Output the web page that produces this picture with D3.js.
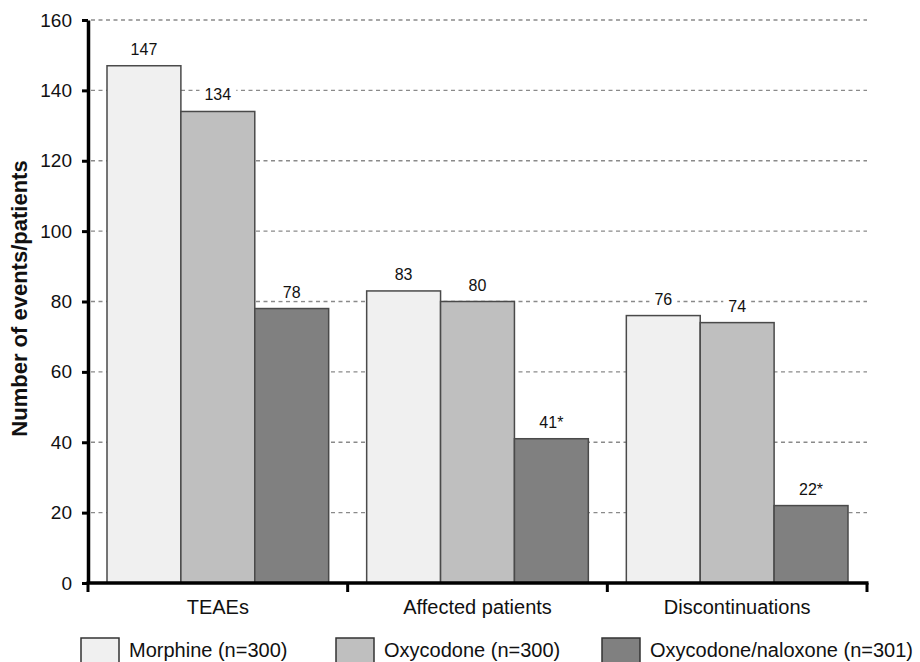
<!DOCTYPE html>
<html>
<head>
<meta charset="utf-8">
<script src="https://cdn.jsdelivr.net/npm/d3@7"></script>
<style>
  body { margin: 0; background: #fff; }
  svg text { font-family: Arial, "Liberation Sans", Helvetica, sans-serif; fill: #111; }
</style>
</head>
<body>
<svg id="chart" width="920" height="662"></svg>
<script>
// Treatment-emergent adverse events by study arm
const categories = ["TEAEs", "Affected patients", "Discontinuations"];
const seriesNames = ["Morphine (n=300)", "Oxycodone (n=300)", "Oxycodone/naloxone (n=301)"];
const morphine = [147, 83, 76];
const oxycodone = [134, 80, 74];
const oxycodoneNaloxone = [78, 41, 22];
// significance markers appended to the oxycodone/naloxone values
const naloxoneMarks = ["", "*", "*"];
const yTicks = [0, 20, 40, 60, 80, 100, 120, 140, 160];

const seriesValues = [morphine, oxycodone, oxycodoneNaloxone];
const seriesMarks = [["", "", ""], ["", "", ""], naloxoneMarks];
const fills = ["#f0f0f0", "#bfbfbf", "#808080"];

const svg = d3.select("#chart");
const plotLeft = 88, plotRight = 867, plotTop = 20, plotBottom = 583;

const y = d3.scaleLinear().domain([0, 160]).range([plotBottom, plotTop]);
const x0 = d3.scaleBand().domain(categories).range([plotLeft, plotRight]).padding(0);
const x1 = d3.scaleBand().domain(d3.range(seriesNames.length))
  .range([19, x0.bandwidth() - 19]).padding(0);

// horizontal dashed grid
svg.append("g")
  .selectAll("line")
  .data(yTicks.filter(t => t > 0))
  .join("line")
  .attr("x1", plotLeft + 3).attr("x2", plotRight)
  .attr("y1", d => y(d)).attr("y2", d => y(d))
  .attr("stroke", "#8a8a8a")
  .attr("stroke-width", 1.4)
  .attr("stroke-dasharray", "4,3.5");

// bars
const rows = [];
categories.forEach((c, ci) => {
  seriesValues.forEach((vals, si) => {
    rows.push({ cat: c, s: si, v: vals[ci], mark: seriesMarks[si][ci] });
  });
});

svg.append("g")
  .selectAll("rect")
  .data(rows)
  .join("rect")
  .attr("x", d => x0(d.cat) + x1(d.s))
  .attr("y", d => y(d.v))
  .attr("width", x1.bandwidth())
  .attr("height", d => y(0) - y(d.v))
  .attr("fill", d => fills[d.s])
  .attr("stroke", "#4a4a4a")
  .attr("stroke-width", 1.5);

// value labels with a white backing that breaks the grid line
const lab = svg.append("g").selectAll("g")
  .data(rows)
  .join("g");

lab.append("rect").attr("fill", "#fff");
lab.append("text")
  .attr("x", d => x0(d.cat) + x1(d.s) + x1.bandwidth() / 2)
  .attr("y", d => y(d.v) - 11)
  .attr("text-anchor", "middle")
  .attr("font-size", 16)
  .text(d => d.v + d.mark);

lab.each(function () {
  const g = d3.select(this);
  const b = g.select("text").node().getBBox();
  g.select("rect")
    .attr("x", b.x - 5).attr("y", b.y + 2)
    .attr("width", b.width + 10).attr("height", b.height - 2);
});

// y axis
const yAxis = svg.append("g")
  .attr("transform", `translate(${plotLeft},0)`)
  .call(d3.axisLeft(y).tickValues(yTicks).tickSize(6).tickSizeOuter(0).tickPadding(10));
yAxis.select(".domain").attr("stroke", "#000").attr("stroke-width", 3.5);
yAxis.selectAll(".tick line").attr("stroke", "#000").attr("stroke-width", 3);
yAxis.selectAll(".tick text")
  .attr("font-size", 19)
  .attr("font-family", "Arial, 'Liberation Sans', sans-serif")
  .attr("fill", "#111");

// x axis: category labels centred, ticks at the group boundaries
const xAxis = svg.append("g")
  .attr("transform", `translate(0,${plotBottom})`)
  .call(d3.axisBottom(x0).tickSize(0).tickPadding(17));
xAxis.select(".domain").remove();
xAxis.selectAll(".tick text")
  .attr("font-size", 20)
  .attr("font-family", "Arial, 'Liberation Sans', sans-serif")
  .attr("fill", "#111");

const bounds = categories.map(c => x0(c)).concat([x0(categories[categories.length - 1]) + x0.bandwidth()]);
svg.append("line")
  .attr("x1", plotLeft - 1.5).attr("x2", plotRight + 1.5)
  .attr("y1", plotBottom).attr("y2", plotBottom)
  .attr("stroke", "#000").attr("stroke-width", 3.5);
svg.append("g").selectAll("line")
  .data(bounds)
  .join("line")
  .attr("x1", d => d).attr("x2", d => d)
  .attr("y1", plotBottom).attr("y2", plotBottom + 9)
  .attr("stroke", "#000").attr("stroke-width", 3);

// y axis title
svg.append("text")
  .attr("transform", `translate(19,${(plotTop + plotBottom) / 2 - 3}) rotate(-90)`)
  .attr("text-anchor", "middle")
  .attr("dominant-baseline", "central")
  .attr("font-size", 22)
  .attr("font-weight", "bold")
  .text("Number of events/patients");

// legend
const legendX = [81, 336, 602];
const leg = svg.append("g").selectAll("g")
  .data(seriesNames)
  .join("g")
  .attr("transform", (d, i) => `translate(${legendX[i]},638)`);
leg.append("rect")
  .attr("width", 38).attr("height", 38)
  .attr("fill", (d, i) => fills[i])
  .attr("stroke", "#333").attr("stroke-width", 1.5);
leg.append("text")
  .attr("x", 48).attr("y", 18.5)
  .attr("font-size", 20)
  .text(d => d);
</script>
</body>
</html>
